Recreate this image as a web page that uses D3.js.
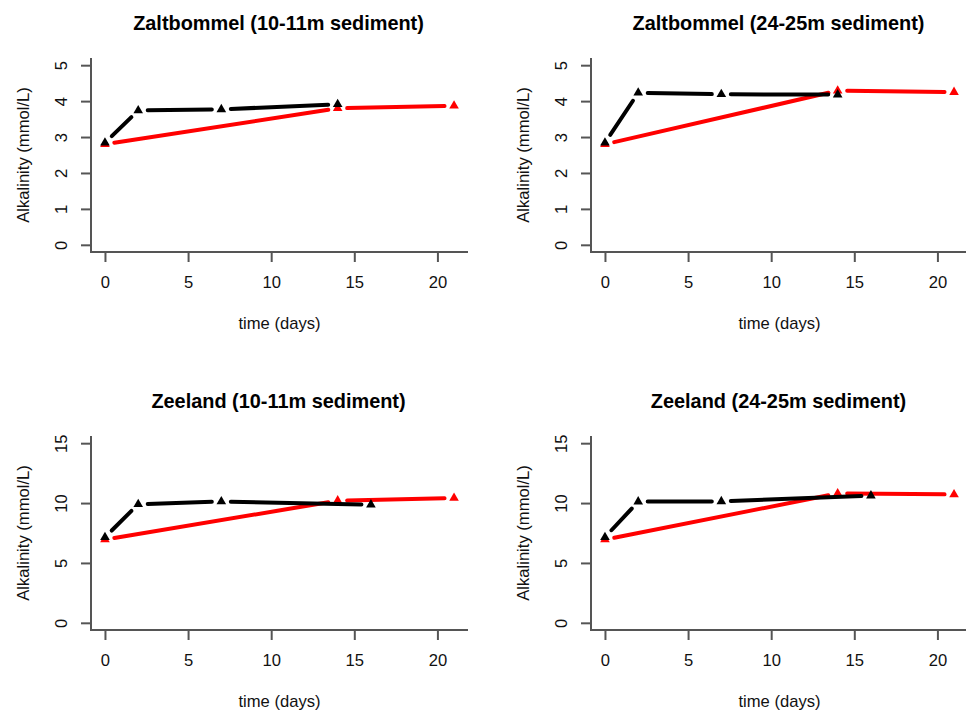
<!DOCTYPE html>
<html>
<head>
<meta charset="utf-8">
<script src="https://cdn.jsdelivr.net/npm/d3@7"></script>
<style>
  body { margin: 0; background: #fff; }
  svg { display: block; font-family: "Liberation Sans", Arial, sans-serif; }
</style>
</head>
<body>
<svg id="chart" width="966" height="715"></svg>
<script>
// --- data ---
const titles = [
  "Zaltbommel (10-11m sediment)", "Zaltbommel (24-25m sediment)",
  "Zeeland (10-11m sediment)", "Zeeland (24-25m sediment)"
];
const xTicks = [0, 5, 10, 15, 20];
const yTicksTop = [0, 1, 2, 3, 4, 5];
const yTicksBottom = [0, 5, 10, 15];

const blackDaysTop = [0, 2, 7, 14];
const blackDaysBottom = [0, 2, 7, 16];
const redDays = [0, 14, 21];

const zb10Black = [2.84, 3.74, 3.77, 3.91];
const zb10Red = [2.80, 3.80, 3.87];
const zb24Black = [2.84, 4.23, 4.19, 4.18];
const zb24Red = [2.80, 4.29, 4.25];
const zl10Black = [7.15, 9.90, 10.13, 9.87];
const zl10Red = [6.95, 10.20, 10.42];
const zl24Black = [7.15, 10.12, 10.14, 10.62];
const zl24Red = [6.95, 10.80, 10.72];

const panels = [
  { title: titles[0], col: 0, row: 0, yMax: 5, yTicks: yTicksTop, bDays: blackDaysTop, black: zb10Black, red: zb10Red },
  { title: titles[1], col: 1, row: 0, yMax: 5, yTicks: yTicksTop, bDays: blackDaysTop, black: zb24Black, red: zb24Red },
  { title: titles[2], col: 0, row: 1, yMax: 15, yTicks: yTicksBottom, bDays: blackDaysBottom, black: zl10Black, red: zl10Red },
  { title: titles[3], col: 1, row: 1, yMax: 15, yTicks: yTicksBottom, bDays: blackDaysBottom, black: zl24Black, red: zl24Red }
];

// plot region inside each panel (R style, bty="l")
const pLeft = 91, pRight = 468, pTop = 58, pBottom = 252;
const colOffset = 500, rowOffset = 378;
const gap = 9.5;    // type="b" gap around points
const axisCol = "#555";
const fs = 16.6;

const svg = d3.select("#chart");

panels.forEach(p => {
  const g = svg.append("g")
    .attr("transform", `translate(${p.col * colOffset},${p.row * rowOffset})`);

  // R pads the range by 4% on each side
  const xPad = 21 * 0.04, yPad = p.yMax * 0.04;
  const x = d3.scaleLinear().domain([0 - xPad, 21 + xPad]).range([pLeft, pRight]);
  const y = d3.scaleLinear().domain([0 - yPad, p.yMax + yPad]).range([pBottom, pTop]);

  // L box
  g.append("path")
    .attr("d", `M${pLeft},${pTop}V${pBottom}H${pRight}`)
    .attr("fill", "none").attr("stroke", axisCol).attr("stroke-width", 2);

  // x axis ticks
  const xAxis = g.append("g").attr("transform", `translate(0,${pBottom})`)
    .call(d3.axisBottom(x).tickValues(xTicks).tickFormat(d3.format("d")).tickSize(10).tickPadding(14));
  xAxis.select(".domain").remove();
  xAxis.selectAll(".tick line").attr("stroke", axisCol).attr("stroke-width", 2);
  xAxis.selectAll(".tick text").attr("font-size", fs).attr("fill", "#111")
    .attr("font-family", "Liberation Sans, Arial, sans-serif");

  // y axis ticks, labels parallel to axis
  const yAxis = g.append("g").attr("transform", `translate(${pLeft},0)`)
    .call(d3.axisLeft(y).tickValues(p.yTicks).tickFormat(d3.format("d")).tickSize(10));
  yAxis.select(".domain").remove();
  yAxis.selectAll(".tick line").attr("stroke", axisCol).attr("stroke-width", 2);
  yAxis.selectAll(".tick text")
    .attr("font-size", fs).attr("fill", "#111")
    .attr("font-family", "Liberation Sans, Arial, sans-serif")
    .attr("x", null).attr("dy", null)
    .attr("text-anchor", "middle")
    .attr("transform", "translate(-24,0) rotate(-90)");

  // titles
  g.append("text")
    .attr("x", (pLeft + pRight) / 2 - 1).attr("y", 30)
    .attr("text-anchor", "middle").attr("font-size", 19.9).attr("font-weight", "bold")
    .text(p.title);
  g.append("text")
    .attr("x", (pLeft + pRight) / 2).attr("y", 329)
    .attr("text-anchor", "middle").attr("font-size", fs).attr("fill", "#111")
    .text("time (days)");
  g.append("text")
    .attr("transform", `translate(29,${(pTop + pBottom) / 2}) rotate(-90)`)
    .attr("text-anchor", "middle").attr("font-size", fs).attr("fill", "#111")
    .text("Alkalinity (mmol/L)");

  // series: red first, black on top
  const series = [
    { days: redDays, vals: p.red, color: "#ff0000" },
    { days: p.bDays, vals: p.black, color: "#000000" }
  ];
  series.forEach(s => {
    const pts = s.days.map((d, i) => [x(d), y(s.vals[i])]);
    const segs = [];
    for (let i = 0; i < pts.length - 1; i++) {
      const [x0, y0] = pts[i], [x1, y1] = pts[i + 1];
      const len = Math.hypot(x1 - x0, y1 - y0);
      if (len <= 2 * gap) continue;
      const ux = (x1 - x0) / len, uy = (y1 - y0) / len;
      segs.push([[x0 + ux * gap, y0 + uy * gap], [x1 - ux * gap, y1 - uy * gap]]);
    }
    g.selectAll(null).data(segs).enter().append("path")
      .attr("d", d => d3.line()(d))
      .attr("fill", "none").attr("stroke", s.color)
      .attr("stroke-width", 4).attr("stroke-linecap", "round");
    g.selectAll(null).data(pts).enter().append("path")
      .attr("d", d3.symbol().type(d3.symbolTriangle).size(40))
      .attr("transform", d => `translate(${d[0]},${d[1]})`)
      .attr("fill", s.color);
  });
});
</script>
</body>
</html>
